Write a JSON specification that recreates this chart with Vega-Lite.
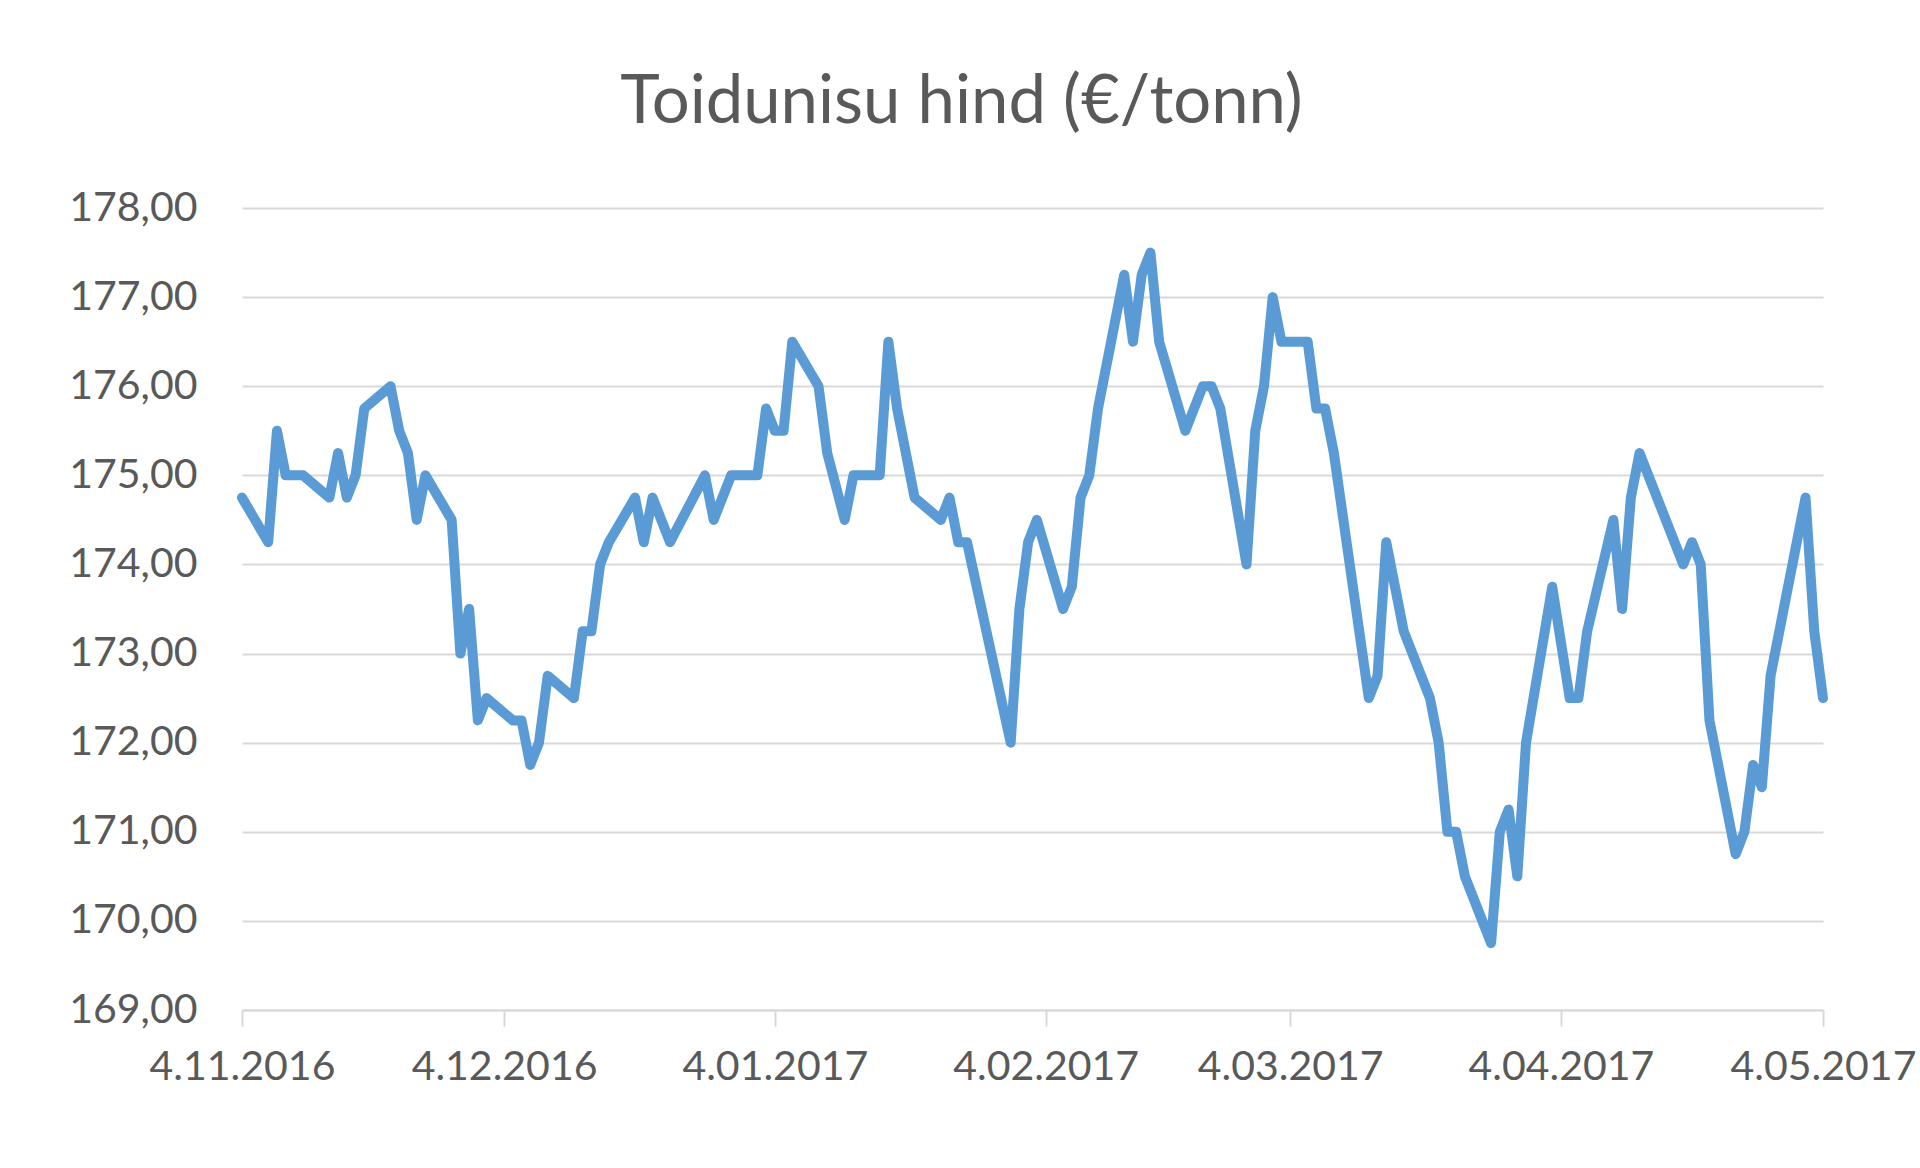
{
  "$schema": "https://vega.github.io/schema/vega-lite/v6.json",
  "description": "Toidunisu hind (EUR/tonn), 4.11.2016 - 4.05.2017",
  "autosize": {"type": "none"},
  "padding": {"left": 242, "top": 208, "right": 97, "bottom": 158},
  "width": 1581,
  "height": 802,
  "background": "white",
  "title": {
    "text": "Toidunisu hind (€/tonn)",
    "font": "Lato",
    "fontSize": 67,
    "fontWeight": "normal",
    "color": "#595959",
    "anchor": "middle",
    "frame": "group",
    "baseline": "alphabetic",
    "dx": -71,
    "offset": -3
  },
  "data": {
    "values": [
      {"kuupaev": "2016-11-04", "hind": 174.75},
      {"kuupaev": "2016-11-07", "hind": 174.25},
      {"kuupaev": "2016-11-08", "hind": 175.5},
      {"kuupaev": "2016-11-09", "hind": 175.0},
      {"kuupaev": "2016-11-11", "hind": 175.0},
      {"kuupaev": "2016-11-14", "hind": 174.75},
      {"kuupaev": "2016-11-15", "hind": 175.25},
      {"kuupaev": "2016-11-16", "hind": 174.75},
      {"kuupaev": "2016-11-17", "hind": 175.0},
      {"kuupaev": "2016-11-18", "hind": 175.75},
      {"kuupaev": "2016-11-21", "hind": 176.0},
      {"kuupaev": "2016-11-22", "hind": 175.5},
      {"kuupaev": "2016-11-23", "hind": 175.25},
      {"kuupaev": "2016-11-24", "hind": 174.5},
      {"kuupaev": "2016-11-25", "hind": 175.0},
      {"kuupaev": "2016-11-28", "hind": 174.5},
      {"kuupaev": "2016-11-29", "hind": 173.0},
      {"kuupaev": "2016-11-30", "hind": 173.5},
      {"kuupaev": "2016-12-01", "hind": 172.25},
      {"kuupaev": "2016-12-02", "hind": 172.5},
      {"kuupaev": "2016-12-05", "hind": 172.25},
      {"kuupaev": "2016-12-06", "hind": 172.25},
      {"kuupaev": "2016-12-07", "hind": 171.75},
      {"kuupaev": "2016-12-08", "hind": 172.0},
      {"kuupaev": "2016-12-09", "hind": 172.75},
      {"kuupaev": "2016-12-12", "hind": 172.5},
      {"kuupaev": "2016-12-13", "hind": 173.25},
      {"kuupaev": "2016-12-14", "hind": 173.25},
      {"kuupaev": "2016-12-15", "hind": 174.0},
      {"kuupaev": "2016-12-16", "hind": 174.25},
      {"kuupaev": "2016-12-19", "hind": 174.75},
      {"kuupaev": "2016-12-20", "hind": 174.25},
      {"kuupaev": "2016-12-21", "hind": 174.75},
      {"kuupaev": "2016-12-23", "hind": 174.25},
      {"kuupaev": "2016-12-27", "hind": 175.0},
      {"kuupaev": "2016-12-28", "hind": 174.5},
      {"kuupaev": "2016-12-30", "hind": 175.0},
      {"kuupaev": "2017-01-02", "hind": 175.0},
      {"kuupaev": "2017-01-03", "hind": 175.75},
      {"kuupaev": "2017-01-04", "hind": 175.5},
      {"kuupaev": "2017-01-05", "hind": 175.5},
      {"kuupaev": "2017-01-06", "hind": 176.5},
      {"kuupaev": "2017-01-09", "hind": 176.0},
      {"kuupaev": "2017-01-10", "hind": 175.25},
      {"kuupaev": "2017-01-12", "hind": 174.5},
      {"kuupaev": "2017-01-13", "hind": 175.0},
      {"kuupaev": "2017-01-16", "hind": 175.0},
      {"kuupaev": "2017-01-17", "hind": 176.5},
      {"kuupaev": "2017-01-18", "hind": 175.75},
      {"kuupaev": "2017-01-20", "hind": 174.75},
      {"kuupaev": "2017-01-23", "hind": 174.5},
      {"kuupaev": "2017-01-24", "hind": 174.75},
      {"kuupaev": "2017-01-25", "hind": 174.25},
      {"kuupaev": "2017-01-26", "hind": 174.25},
      {"kuupaev": "2017-01-31", "hind": 172.0},
      {"kuupaev": "2017-02-01", "hind": 173.5},
      {"kuupaev": "2017-02-02", "hind": 174.25},
      {"kuupaev": "2017-02-03", "hind": 174.5},
      {"kuupaev": "2017-02-06", "hind": 173.5},
      {"kuupaev": "2017-02-07", "hind": 173.75},
      {"kuupaev": "2017-02-08", "hind": 174.75},
      {"kuupaev": "2017-02-09", "hind": 175.0},
      {"kuupaev": "2017-02-10", "hind": 175.75},
      {"kuupaev": "2017-02-13", "hind": 177.25},
      {"kuupaev": "2017-02-14", "hind": 176.5},
      {"kuupaev": "2017-02-15", "hind": 177.25},
      {"kuupaev": "2017-02-16", "hind": 177.5},
      {"kuupaev": "2017-02-17", "hind": 176.5},
      {"kuupaev": "2017-02-20", "hind": 175.5},
      {"kuupaev": "2017-02-22", "hind": 176.0},
      {"kuupaev": "2017-02-23", "hind": 176.0},
      {"kuupaev": "2017-02-24", "hind": 175.75},
      {"kuupaev": "2017-02-27", "hind": 174.0},
      {"kuupaev": "2017-02-28", "hind": 175.5},
      {"kuupaev": "2017-03-01", "hind": 176.0},
      {"kuupaev": "2017-03-02", "hind": 177.0},
      {"kuupaev": "2017-03-03", "hind": 176.5},
      {"kuupaev": "2017-03-06", "hind": 176.5},
      {"kuupaev": "2017-03-07", "hind": 175.75},
      {"kuupaev": "2017-03-08", "hind": 175.75},
      {"kuupaev": "2017-03-09", "hind": 175.25},
      {"kuupaev": "2017-03-13", "hind": 172.5},
      {"kuupaev": "2017-03-14", "hind": 172.75},
      {"kuupaev": "2017-03-15", "hind": 174.25},
      {"kuupaev": "2017-03-17", "hind": 173.25},
      {"kuupaev": "2017-03-20", "hind": 172.5},
      {"kuupaev": "2017-03-21", "hind": 172.0},
      {"kuupaev": "2017-03-22", "hind": 171.0},
      {"kuupaev": "2017-03-23", "hind": 171.0},
      {"kuupaev": "2017-03-24", "hind": 170.5},
      {"kuupaev": "2017-03-27", "hind": 169.75},
      {"kuupaev": "2017-03-28", "hind": 171.0},
      {"kuupaev": "2017-03-29", "hind": 171.25},
      {"kuupaev": "2017-03-30", "hind": 170.5},
      {"kuupaev": "2017-03-31", "hind": 172.0},
      {"kuupaev": "2017-04-03", "hind": 173.75},
      {"kuupaev": "2017-04-05", "hind": 172.5},
      {"kuupaev": "2017-04-06", "hind": 172.5},
      {"kuupaev": "2017-04-07", "hind": 173.25},
      {"kuupaev": "2017-04-10", "hind": 174.5},
      {"kuupaev": "2017-04-11", "hind": 173.5},
      {"kuupaev": "2017-04-12", "hind": 174.75},
      {"kuupaev": "2017-04-13", "hind": 175.25},
      {"kuupaev": "2017-04-18", "hind": 174.0},
      {"kuupaev": "2017-04-19", "hind": 174.25},
      {"kuupaev": "2017-04-20", "hind": 174.0},
      {"kuupaev": "2017-04-21", "hind": 172.25},
      {"kuupaev": "2017-04-24", "hind": 170.75},
      {"kuupaev": "2017-04-25", "hind": 171.0},
      {"kuupaev": "2017-04-26", "hind": 171.75},
      {"kuupaev": "2017-04-27", "hind": 171.5},
      {"kuupaev": "2017-04-28", "hind": 172.75},
      {"kuupaev": "2017-05-02", "hind": 174.75},
      {"kuupaev": "2017-05-03", "hind": 173.25},
      {"kuupaev": "2017-05-04", "hind": 172.5}
    ]
  },
  "mark": {
    "type": "line",
    "color": "#5B9BD5",
    "strokeWidth": 10,
    "strokeJoin": "round",
    "strokeCap": "round"
  },
  "encoding": {
    "x": {
      "field": "kuupaev",
      "type": "temporal",
      "title": null,
      "scale": {
        "type": "utc",
        "domain": [
          {"year": 2016, "month": 11, "date": 4, "utc": true},
          {"year": 2017, "month": 5, "date": 4, "utc": true}
        ]
      },
      "axis": {
        "values": [
          {"year": 2016, "month": 11, "date": 4, "utc": true},
          {"year": 2016, "month": 12, "date": 4, "utc": true},
          {"year": 2017, "month": 1, "date": 4, "utc": true},
          {"year": 2017, "month": 2, "date": 4, "utc": true},
          {"year": 2017, "month": 3, "date": 4, "utc": true},
          {"year": 2017, "month": 4, "date": 4, "utc": true},
          {"year": 2017, "month": 5, "date": 4, "utc": true}
        ],
        "format": "%-d.%m.%Y",
        "grid": false,
        "domainColor": "#D9D9D9",
        "domainWidth": 2,
        "tickColor": "#D9D9D9",
        "tickWidth": 2,
        "tickSize": 16,
        "labelPadding": 21,
        "labelFont": "Lato",
        "labelFontSize": 41,
        "labelColor": "#595959",
        "labelLimit": 0,
        "labelOverlap": false,
        "labelFlush": false
      }
    },
    "y": {
      "field": "hind",
      "type": "quantitative",
      "title": null,
      "scale": {"domain": [169, 178], "nice": false, "zero": false},
      "axis": {
        "values": [169, 170, 171, 172, 173, 174, 175, 176, 177, 178],
        "labelExpr": "replace(format(datum.value, '.2f'), '.', ',')",
        "domain": false,
        "ticks": false,
        "tickSize": 0,
        "grid": true,
        "gridColor": "#D9D9D9",
        "gridWidth": 2,
        "labelPadding": 45,
        "labelFont": "Lato",
        "labelFontSize": 41,
        "labelColor": "#595959",
        "labelLimit": 0
      }
    }
  },
  "config": {
    "view": {"stroke": null}
  }
}
